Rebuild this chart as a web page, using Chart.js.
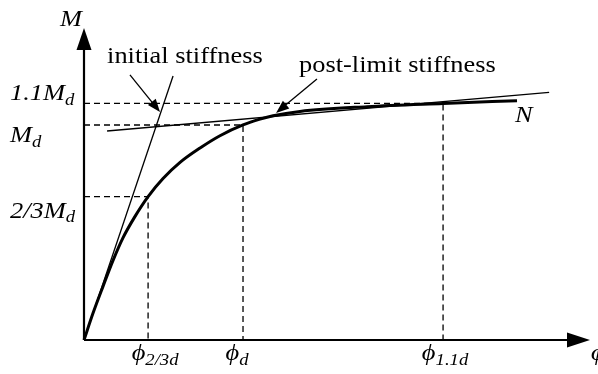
<!DOCTYPE html>
<html>
<head>
<meta charset="utf-8">
<script src="https://cdn.jsdelivr.net/npm/chart.js@4/dist/chart.umd.min.js"></script>
<style>
  html, body { margin: 0; padding: 0; background: #fff; }
  #wrap { width: 598px; height: 374px; }
</style>
</head>
<body>
<div id="wrap"><canvas id="chart" width="598" height="374"></canvas></div>
<script>
// M-phi curve, phi in units of phi_d and M in units of M_d
const curvePhi = [0, 0.057, 0.119, 0.182, 0.245, 0.321, 0.403, 0.497, 0.604, 0.730, 0.855, 1.0, 1.107, 1.189, 1.358, 1.780, 2.258, 2.723];
const curveM   = [0, 0.125, 0.248, 0.369, 0.475, 0.575, 0.667, 0.751, 0.826, 0.893, 0.950, 1.0, 1.027, 1.043, 1.063, 1.085, 1.1, 1.113];

// stiffness lines, start and end
const initialPhi = [0, 0.560];
const initialM   = [0, 1.228];
const postPhi    = [0.145, 2.925];
const postM      = [0.972, 1.152];

// reference levels on both axes
const mTicks        = [2 / 3, 1, 1.1];
const mTickLabels   = [["2/3M", "d"], ["M", "d"], ["1.1M", "d"]];
const phiTicks      = [0.403, 1.0, 2.258];
const phiTickLabels = [["\u03d5", "2/3d"], ["\u03d5", "d"], ["\u03d5", "1.1d"]];

// axis extent (arrow tips)
const phiMax = 3.182;
const mMax = 1.451;

const SERIF = "'Liberation Serif', 'Times New Roman', serif";
const STRETCH = 1.1;

const toPoints = (xs, ys) => xs.map((v, i) => ({ x: v, y: ys[i] }));

// dashed guide: from the M axis across to the curve, then down to the phi axis
const guides = mTicks.map((m, i) => [
  { x: 0, y: m },
  { x: phiTicks[i], y: m },
  { x: phiTicks[i], y: 0 }
]);

const lineDefaults = {
  showLine: true,
  pointRadius: 0,
  borderColor: "#000",
  fill: false,
  clip: false
};

// text drawn a little wider than the font, like the original figure
const textWidth = (ctx, str, font) => {
  ctx.font = font;
  return ctx.measureText(str).width * STRETCH;
};

const putText = (ctx, str, x, y, font) => {
  ctx.save();
  ctx.font = font;
  ctx.textAlign = "left";
  ctx.textBaseline = "alphabetic";
  ctx.translate(x, y);
  ctx.scale(STRETCH, 1);
  ctx.fillText(str, 0, 0);
  ctx.restore();
};

// main text followed by a lowered subscript
const drawSub = (ctx, main, sub, x, y, size, subSize, align) => {
  const f1 = "italic " + size + "px " + SERIF;
  const f2 = "italic " + subSize + "px " + SERIF;
  const w1 = textWidth(ctx, main, f1);
  const w2 = textWidth(ctx, sub, f2);
  const left = align === "center" ? x - (w1 + w2) / 2 : x;
  putText(ctx, main, left, y, f1);
  putText(ctx, sub, left + w1, y + size * 0.2, f2);
};

const arrowHead = (ctx, fx, fy, tx, ty, len, half) => {
  const a = Math.atan2(ty - fy, tx - fx);
  ctx.beginPath();
  ctx.moveTo(tx, ty);
  ctx.lineTo(tx - len * Math.cos(a) + half * Math.sin(a), ty - len * Math.sin(a) - half * Math.cos(a));
  ctx.lineTo(tx - len * Math.cos(a) - half * Math.sin(a), ty - len * Math.sin(a) + half * Math.cos(a));
  ctx.closePath();
  ctx.fill();
};

// pointer arrows for the two stiffness labels
const pointers = [
  { from: [0.289, 1.233], to: [0.478, 1.060] },
  { from: [1.465, 1.214], to: [1.208, 1.056] }
];

const sketchPlugin = {
  id: "sketch",
  afterDatasetsDraw(chart) {
    const { ctx } = chart;
    const xs = chart.scales.x;
    const ys = chart.scales.y;
    const px = v => xs.getPixelForValue(v);
    const py = v => ys.getPixelForValue(v);

    ctx.save();
    ctx.fillStyle = "#000";
    ctx.strokeStyle = "#000";

    // axes with arrowheads
    const ox = px(0), oy = py(0);
    ctx.lineWidth = 2.2;
    ctx.beginPath();
    ctx.moveTo(ox, oy);
    ctx.lineTo(ox, py(mMax) + 12);
    ctx.moveTo(ox, oy);
    ctx.lineTo(px(phiMax) - 12, oy);
    ctx.stroke();
    arrowHead(ctx, ox, oy, ox, py(mMax), 22, 7.5);
    arrowHead(ctx, ox, oy, px(phiMax), oy, 23, 7.5);

    // label pointers
    ctx.lineWidth = 1.3;
    pointers.forEach(p => {
      const fx = px(p.from[0]), fy = py(p.from[1]);
      const tx = px(p.to[0]), ty = py(p.to[1]);
      const a = Math.atan2(ty - fy, tx - fx);
      ctx.beginPath();
      ctx.moveTo(fx, fy);
      ctx.lineTo(tx - 8 * Math.cos(a), ty - 8 * Math.sin(a));
      ctx.stroke();
      arrowHead(ctx, fx, fy, tx, ty, 13, 5);
    });

    // M axis labels
    const mOffsets = [21, 17, -3];
    mTicks.forEach((m, i) => {
      drawSub(ctx, mTickLabels[i][0], mTickLabels[i][1], 10, py(m) + mOffsets[i], 24, 17, "left");
    });

    // phi axis labels
    const phiShift = [7, -6, 2];
    phiTicks.forEach((f, i) => {
      drawSub(ctx, phiTickLabels[i][0], phiTickLabels[i][1], px(f) + phiShift[i], oy + 20, 24, 17, "center");
    });

    // axis names and curve name
    const italic = "italic 24px " + SERIF;
    putText(ctx, "M", ox - 24, py(mMax) - 2, italic);
    putText(ctx, "N", px(2.711), py(1.014), italic);
    putText(ctx, "\u03d5", px(phiMax) + 1, oy + 20, italic);

    const plain = "24px " + SERIF;
    putText(ctx, "initial stiffness", px(0.145), py(1.288), plain);
    putText(ctx, "post-limit stiffness", px(1.352), py(1.247), plain);

    ctx.restore();
  }
};

new Chart(document.getElementById("chart"), {
  type: "scatter",
  data: {
    datasets: [
      Object.assign({}, lineDefaults, {
        data: toPoints(curvePhi, curveM),
        borderWidth: 3,
        cubicInterpolationMode: "monotone"
      }),
      Object.assign({}, lineDefaults, {
        data: toPoints(initialPhi, initialM),
        borderWidth: 1.3
      }),
      Object.assign({}, lineDefaults, {
        data: toPoints(postPhi, postM),
        borderWidth: 1.3
      }),
      ...guides.map(g => Object.assign({}, lineDefaults, {
        data: g,
        borderWidth: 1.3,
        borderDash: [6, 4]
      }))
    ]
  },
  options: {
    responsive: false,
    devicePixelRatio: 1,
    animation: false,
    layout: { padding: { left: 84, right: 8, top: 28, bottom: 34 } },
    plugins: { legend: { display: false }, tooltip: { enabled: false } },
    scales: {
      x: { type: "linear", display: false, min: 0, max: phiMax },
      y: { type: "linear", display: false, min: 0, max: mMax }
    }
  },
  plugins: [sketchPlugin]
});
</script>
</body>
</html>
